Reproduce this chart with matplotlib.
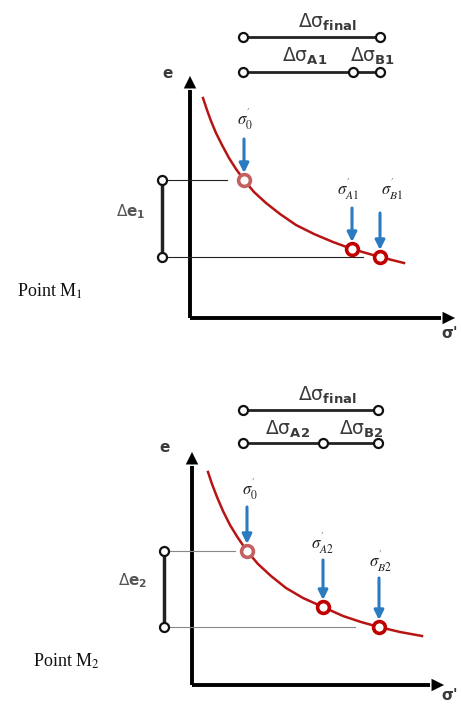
import matplotlib
matplotlib.use("Agg")
import matplotlib.pyplot as plt

W, H = 461, 708

# ---- data (pixel-space coordinates) ----
# Panel 1 (point M1)
curve1_x = [203, 207, 211, 216, 222, 229, 236, 244, 254, 266, 280, 296, 314, 333, 352, 366, 380, 392, 404]
curve1_y = [98, 110, 121, 133, 145, 158, 169, 180, 192, 203, 214, 225, 234, 242, 249, 253, 257, 260, 263]
pts1_x = [244, 352, 380]
pts1_y = [180, 249, 257]
pts1_labels = [r"$\sigma^{'}_{0}$", r"$\sigma^{'}_{A1}$", r"$\sigma^{'}_{B1}$"]
lab1_xy = [(245, 119), (348, 189), (392, 189)]
arr1_top = [139, 208, 213]

# Panel 2 (point M2)
curve2_x = [208, 212, 217, 223, 230, 238, 247, 258, 271, 286, 303, 323, 343, 361, 379, 400, 422]
curve2_y = [472, 484, 497, 511, 525, 538, 551, 564, 576, 588, 598, 607, 616, 622, 627, 632, 636]
pts2_x = [247, 323, 379]
pts2_y = [551, 607, 627]
pts2_labels = [r"$\sigma^{'}_{0}$", r"$\sigma^{'}_{A2}$", r"$\sigma^{'}_{B2}$"]
lab2_xy = [(250, 489), (322, 543), (380, 561)]
arr2_top = [507, 560, 578]

panels = [
    dict(cx=curve1_x, cy=curve1_y, px=pts1_x, py=pts1_y, labs=pts1_labels,
         labxy=lab1_xy, atop=arr1_top, ox=190, oy=318, ytip=76, xtip=455,
         elab=(168, 73), bar_x=162, hl_end=[227, 363], hcol='#222222',
         dim_y=[37, 72], dim_x=[243, 380], mid=353,
         final_lab=(327, 22), a_lab=(305, 56), b_lab=(373, 56),
         a_txt=r'$\Delta\mathrm{\sigma}_{\mathbf{A1}}$', b_txt=r'$\Delta\mathrm{\sigma}_{\mathbf{B1}}$',
         de_lab=(131, 212), de_txt=r'$\Delta\mathbf{e_1}$',
         point=(17, 291), point_txt='Point M$_1$', sig=(441, 334)),
    dict(cx=curve2_x, cy=curve2_y, px=pts2_x, py=pts2_y, labs=pts2_labels,
         labxy=lab2_xy, atop=arr2_top, ox=192, oy=685, ytip=452, xtip=444,
         elab=(165, 448), bar_x=164, hl_end=[235, 355], hcol='#888888',
         dim_y=[410, 443], dim_x=[243, 378], mid=323,
         final_lab=(327, 395), a_lab=(288, 429), b_lab=(361, 429),
         a_txt=r'$\Delta\mathrm{\sigma}_{\mathbf{A2}}$', b_txt=r'$\Delta\mathrm{\sigma}_{\mathbf{B2}}$',
         de_lab=(133, 581), de_txt=r'$\Delta\mathbf{e_2}$',
         point=(33, 661), point_txt='Point M$_2$', sig=(441, 696)),
]

fig = plt.figure(figsize=(W / 100, H / 100), dpi=100)
ax = fig.add_axes([0, 0, 1, 1])
ax.set_xlim(0, W)
ax.set_ylim(H, 0)
ax.axis('off')

red_dark = '#b81414'
blue = '#2a7bbf'
txtgray = '#3a3a3a'

for p in panels:
    ox, oy = p['ox'], p['oy']
    # axes with arrow heads
    ax.plot([ox, ox], [oy, p['ytip'] + 14], color='black', lw=2.8, solid_capstyle='butt')
    ax.plot([ox, p['xtip'] - 14], [oy, oy], color='black', lw=2.8, solid_capstyle='butt')
    ax.annotate('', xy=(ox, p['ytip']), xytext=(ox, p['ytip'] + 20),
                arrowprops=dict(arrowstyle='-|>', color='black', lw=0.1,
                                mutation_scale=22, shrinkA=0, shrinkB=0))
    ax.annotate('', xy=(p['xtip'], oy), xytext=(p['xtip'] - 20, oy),
                arrowprops=dict(arrowstyle='-|>', color='black', lw=0.1,
                                mutation_scale=22, shrinkA=0, shrinkB=0))
    ax.text(*p['elab'], 'e', fontsize=11, fontweight='bold', color=txtgray,
            ha='center', va='center', family='DejaVu Sans')
    ax.text(*p['sig'], "σ'", fontsize=11, fontweight='bold', color=txtgray,
            ha='left', va='center', family='DejaVu Sans')

    # curve
    ax.plot(p['cx'], p['cy'], color=red_dark, lw=1.8, solid_joinstyle='round')

    # horizontal reference lines
    ax.plot([p['bar_x'], p['hl_end'][0]], [p['py'][0]] * 2, color=p['hcol'], lw=0.8)
    ax.plot([p['bar_x'], p['hl_end'][1]], [p['py'][2]] * 2, color=p['hcol'], lw=0.8)

    # delta e bar
    ax.plot([p['bar_x']] * 2, [p['py'][0], p['py'][2]], color='#222222', lw=2.5)
    ax.plot([p['bar_x']] * 2, [p['py'][0], p['py'][2]], 'o', ms=6.5, mfc='white',
            mec='#111111', mew=1.6)
    ax.text(*p['de_lab'], p['de_txt'], fontsize=11, color='#555555',
            ha='center', va='center', math_fontfamily='dejavusans')

    # points on curve
    for i, (x, y) in enumerate(zip(p['px'], p['py'])):
        col = '#c46060' if i == 0 else '#c00000'
        ax.plot([x], [y], 'o', ms=8.5, mfc='white', mec=col, mew=2.6, zorder=5)
        ax.annotate('', xy=(x, y - 7), xytext=(x, p['atop'][i]),
                    arrowprops=dict(arrowstyle='-|>', color=blue, lw=2.2,
                                    mutation_scale=14, shrinkA=0, shrinkB=0))
        ax.text(*p['labxy'][i], p['labs'][i], fontsize=12, color='#222222',
                ha='center', va='center', math_fontfamily='stix')

    # dimension lines at top
    x0, x1 = p['dim_x']
    ax.plot([x0, x1], [p['dim_y'][0]] * 2, color='#222222', lw=2)
    ax.plot([x0, x1], [p['dim_y'][0]] * 2, 'o', ms=6.5, mfc='white', mec='#111111', mew=1.6)
    ax.plot([x0, x1], [p['dim_y'][1]] * 2, color='#222222', lw=2)
    ax.plot([x0, p['mid'], x1], [p['dim_y'][1]] * 3, 'o', ms=6.5, mfc='white',
            mec='#111111', mew=1.6)
    ax.text(*p['final_lab'], r'$\Delta\mathrm{\sigma}_{\mathbf{final}}$', fontsize=13.5, color=txtgray,
            ha='center', va='center', math_fontfamily='dejavusans')
    ax.text(*p['a_lab'], p['a_txt'], fontsize=13.5, color=txtgray,
            ha='center', va='center', math_fontfamily='dejavusans')
    ax.text(*p['b_lab'], p['b_txt'], fontsize=13.5, color=txtgray,
            ha='center', va='center', math_fontfamily='dejavusans')

    ax.text(*p['point'], p['point_txt'], fontsize=13, color='#111111',
            ha='left', va='center', family='Liberation Serif', math_fontfamily='stix')

fig.savefig('out.png', dpi=100)
